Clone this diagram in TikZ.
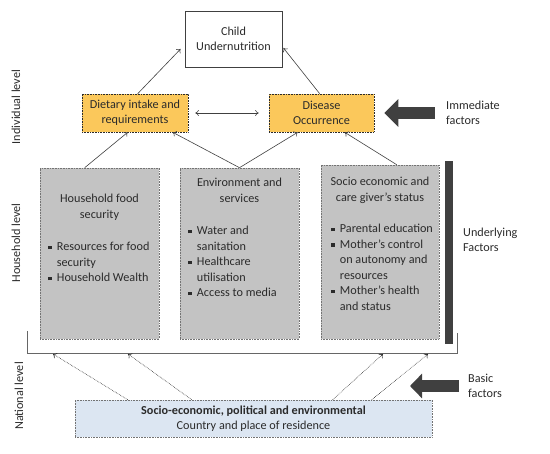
\documentclass[tikz,border=0pt]{standalone}
\usepackage{fontspec}
\setmainfont{Carlito}
\usetikzlibrary{positioning,arrows.meta,calc}
\definecolor{ink}{HTML}{2B2B2B}
\definecolor{darkarrow}{HTML}{404040}
\definecolor{immfill}{HTML}{FBC85B}
\definecolor{hhfill}{HTML}{C3C3C3}
\definecolor{natfill}{HTML}{DCE6F2}
\newcommand{\sqbul}{\makebox[9pt][l]{\rule[0.28ex]{3.6pt}{3.6pt}}}
\newcommand{\bcont}{\hspace*{9pt}}
\tikzset{
  linkarrow/.style={-{To[length=3.5pt,width=6pt]}, line width=0.6pt, darkarrow},
  twoarrow/.style={{To[length=3.5pt,width=6pt]}-{To[length=3.5pt,width=6pt]}, line width=0.6pt, darkarrow},
  dotarrow/.style={-{To[length=3.5pt,width=6pt]}, line width=0.6pt, ink, densely dotted},
  bigarrow/.style={-{Triangle[length=14pt,width=27pt]}, line width=12pt, darkarrow},
  bracketline/.style={line width=0.8pt, gray!80!black},
  outcomenode/.style={draw=ink!90, line width=0.9pt, fill=white, minimum width=97pt, minimum height=56pt, align=center},
  immnode/.style={draw=ink, densely dotted, line width=0.6pt, fill=immfill, minimum width=106pt, minimum height=38pt, align=center},
  hhnode/.style={draw=gray!90!black, densely dotted, line width=0.6pt, fill=hhfill, minimum width=119pt, minimum height=171pt},
  natnode/.style={draw=gray!90!black, densely dotted, line width=0.6pt, fill=natfill, minimum width=357pt, minimum height=37pt, align=center},
  leveltext/.style={rotate=90},
  sidetext/.style={anchor=west, align=left, inner sep=0pt},
  titletext/.style={anchor=north, align=center, inner sep=0pt},
  listtext/.style={anchor=north west, align=left, inner sep=0pt}
}

\begin{document}
\begin{tikzpicture}[x=1pt, y=-1pt, every node/.style={font=\fontsize{12.2}{15.5}\selectfont, text=ink}]
  \useasboundingbox (0,0) rectangle (550,454);
  % individual level
  \node[outcomenode] (child) at (233.5,39) {Child\\Undernutrition};
  \node[immnode] (diet) at (135,113) {Dietary intake and\\requirements};
  \node[immnode, minimum width=105pt] (disease) at (321.5,113) {Disease\\Occurrence};
  \draw[linkarrow] ($(diet.north west)+(56,0)$) -- ($(child.west)+(-4,10)$);
  \draw[linkarrow] ($(disease.north west)+(51,0)$) -- ($(child.east)+(1,9)$);
  \draw[twoarrow, shorten <=7pt, shorten >=10pt] (diet.east) -- (disease.west);
  \coordinate (immtail) at (435,113);
  \draw[bigarrow, shorten >=10pt] (immtail) -- (disease.east);
  \node[sidetext] (immlabel) at (446,113) {Immediate\\factors};

  % household level
  \node[hhnode] (hfood) at (99.5,253.5) {};
  \node[hhnode] (henv) at (239.5,253.5) {};
  \node[hhnode, minimum width=118pt, minimum height=174pt] (hsoc) at (380,252) {};
  \node[titletext] (hfoodtitle) at ($(hfood.north)+(0,24)$) {\strut Household food\\security};
  \node[listtext] (hfoodlist) at ($(hfood.north west)+(8,72)$) {\strut\sqbul Resources for food\\\bcont security\\\sqbul Household Wealth};
  \node[titletext] (henvtitle) at ($(henv.north)+(0,8)$) {\strut Environment and\\services};
  \node[listtext] (henvlist) at ($(henv.north west)+(8,56)$) {\strut\sqbul Water and\\\bcont sanitation\\\sqbul Healthcare\\\bcont utilisation\\\sqbul Access to media};
  \node[titletext] (hsoctitle) at ($(hsoc.north)+(0,10)$) {\strut Socio economic and\\care giver’s status};
  \node[listtext] (hsoclist) at ($(hsoc.north west)+(10,57)$) {\strut\sqbul Parental education\\\sqbul Mother’s control\\\bcont on autonomy and\\\bcont resources\\\sqbul Mother’s health\\\bcont and status};
  \draw[linkarrow] ($(hfood.north west)+(45,0)$) -- ($(diet.south west)+(46,0)$);
  \draw[linkarrow] (henv.north) -- ($(diet.south west)+(91,0)$);
  \draw[linkarrow] (henv.north) -- ($(disease.south west)+(29,0)$);
  \draw[linkarrow] ($(hsoc.north west)+(76,0)$) -- ($(disease.south west)+(76,0)$);
  \node[fill=darkarrow, minimum width=8pt, minimum height=183pt, inner sep=0pt] (ubar) at (449,252.5) {};
  \node[sidetext] (underlabel) at (463,240) {Underlying\\Factors};

  % bracket
  \coordinate (brl) at (27,353);
  \coordinate (brr) at (457,353);
  \draw[bracketline] ($(brl)+(0,-22)$) -- (brl) -- (brr) -- ($(brr)+(0,-20)$);

  % national level
  \node[natnode] (natl) at (253.5,418.5) {\textbf{Socio-economic, political and environmental}\\Country and place of residence};
  \coordinate (bk1) at (53,354);
  \coordinate (bk2) at (128,354);
  \coordinate (bk3) at (383,354);
  \coordinate (bk4) at (428,354);
  \draw[dotarrow] ($(natl.north west)+(53,0)$) -- (bk1);
  \draw[dotarrow] ($(natl.north west)+(117,0)$) -- (bk2);
  \draw[dotarrow] ($(natl.north west)+(258,0)$) -- (bk3);
  \draw[dotarrow] ($(natl.north west)+(297,0)$) -- (bk4);
  \coordinate (basictail) at (459,386);
  \coordinate (basictip) at (410,386);
  \draw[bigarrow, -{Triangle[length=12pt,width=24pt]}] (basictail) -- (basictip);
  \node[sidetext] (basiclabel) at (468,386) {Basic\\factors};

  % levels
  \node[leveltext] (indlevel) at (16,107) {Individual level};
  \node[leveltext] (hhlevel) at (16,243) {Household level};
  \node[leveltext] (natlevel) at (19,396) {National level};
\end{tikzpicture}
\end{document}
